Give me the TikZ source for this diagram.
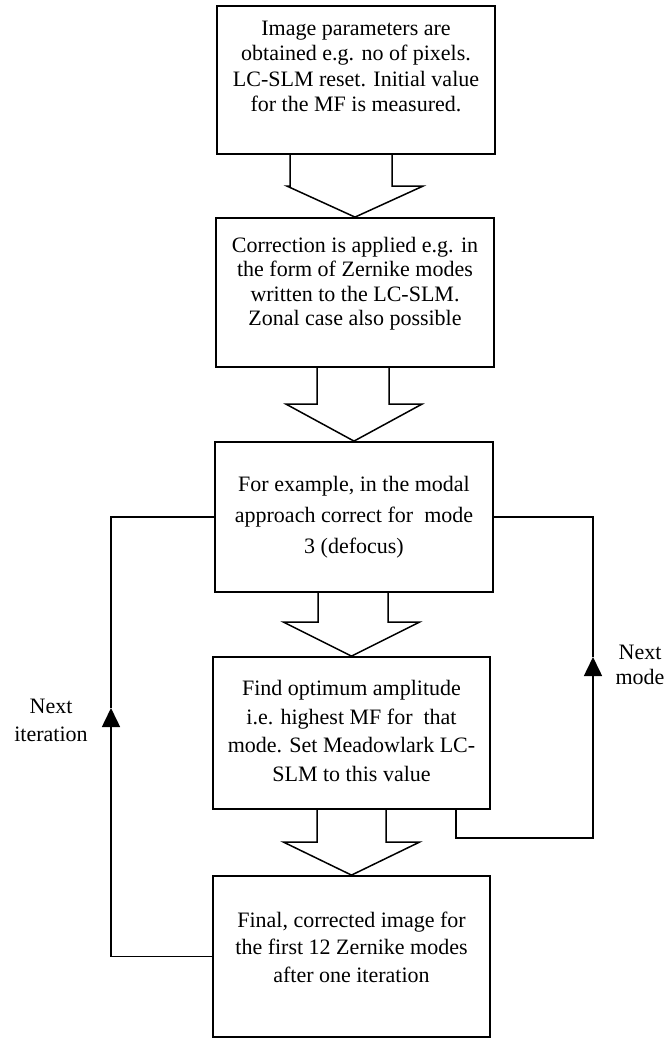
\documentclass[tikz,border=0pt]{standalone}
\usepackage{fontspec}
\setmainfont{Liberation Serif}
\usetikzlibrary{arrows.meta, calc}

% hollow block arrow between two stacked boxes
\newcommand{\blockarrow}[5]{%
  \draw[blkarr] let \p1=(#1.south), \p2=(#2.north) in
    (\x1+#3pt,\y1) -- (\x1+#3pt,\y2+#5pt) -- (\x2-68pt,\y2+#5pt) -- (\p2)
    -- (\x2+68pt,\y2+#5pt) -- (\x1+#4pt,\y2+#5pt) -- (\x1+#4pt,\y1);}

\begin{document}
\begin{tikzpicture}[x=1pt, y=-1pt,
    stage/.style={draw, line width=1.8pt, minimum width=278pt, inner sep=0pt},
    txt/.style={align=center, inner sep=0pt, font=\fontsize{22}{#1}\selectfont},
    blkarr/.style={line width=1.5pt, line join=miter},
    loopline/.style={line width=1.6pt},
    looparr/.style={loopline, -{Triangle[length=19pt,width=18pt]}}
]
\useasboundingbox (0,0) rectangle (666,1039);

% boxes
\node[stage, minimum height=148pt] (b1) at (356,80) {};
\node[stage, minimum height=149pt] (b2) at (355,292.5) {};
\node[stage, minimum height=150pt] (b3) at (354,517) {};
\node[stage, minimum width=277pt, minimum height=152pt] (b4) at (351.5,733) {};
\node[stage, minimum width=277pt, minimum height=161pt] (b5) at (351.5,956.5) {};

% box texts
\node[txt=25.5pt] (t1) at (356,66.5) {Image parameters are\\obtained e.g. no of pixels.\\LC-SLM reset. Initial value\\for the MF is measured.};
\node[txt=24.5pt] (t2) at (355,283.5) {Correction is applied e.g. in\\the form of Zernike modes\\written to the LC-SLM.\\Zonal case also possible};
\node[txt=31pt] (t3) at (354,517) {For example, in the modal\\approach correct for~~mode\\3 (defocus)};
\node[txt=28.5pt] (t4) at (351.5,731) {Find optimum amplitude\\i.e. highest MF for~~that\\mode. Set Meadowlark LC-\\SLM to this value};
\node[txt=27.5pt] (t5) at (351.5,947) {Final, corrected image for\\the first 12 Zernike modes\\after one iteration};

% block arrows
\blockarrow{b1}{b2}{-66}{36}{31}
\blockarrow{b2}{b3}{-38}{34}{37}
\blockarrow{b3}{b4}{-36}{34}{34}
\blockarrow{b4}{b5}{-34.5}{34.5}{33}

% feedback loops
\coordinate (itertip) at (111,708);
\coordinate (modetip) at (593,657);
\draw[looparr] (b5.west) -| (itertip);
\draw[loopline] (itertip) |- (b3.west);
\draw[looparr] ($(b4.south east)+(-35,0)$) -- ++(0,28) -| (modetip);
\draw[loopline] (modetip) |- (b3.east);

\node[txt=28pt] (iterlbl) at (51,720) {Next\\iteration};
\node[txt=25pt] (modelbl) at (640,665) {Next\\mode};
\end{tikzpicture}
\end{document}
